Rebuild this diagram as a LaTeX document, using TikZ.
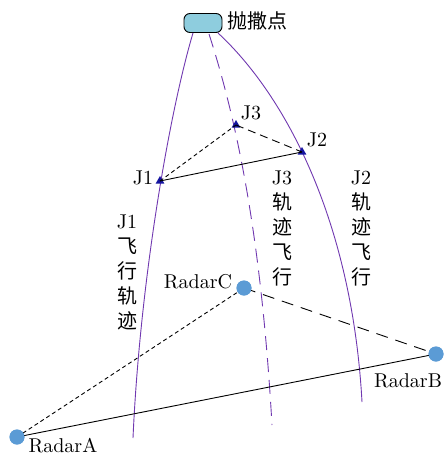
\documentclass[tikz,border=0pt]{standalone}
\usepackage{fontspec}
\setmainfont{lmroman10-regular}[Extension=.otf]
\newfontfamily\cjk{Noto Sans CJK SC}
\usetikzlibrary{shapes.geometric}
\definecolor{traj}{RGB}{112,56,176}
\definecolor{radarblue}{RGB}{91,155,213}
\definecolor{markblue}{RGB}{20,20,160}
\definecolor{boxfill}{RGB}{142,205,222}
\tikzset{
  lab/.style={font=\fontsize{20}{22}\selectfont, inner sep=0pt},
  cjklab/.style={font=\cjk\fontsize{20}{22}\selectfont, inner sep=0pt},
  vlab/.style={font=\fontsize{20}{25}\selectfont, align=center, inner sep=0pt},
  trajline/.style={draw=traj, line width=0.9pt},
  radar/.style={circle, fill=radarblue, minimum size=15pt, inner sep=0pt},
  jmark/.style={regular polygon, regular polygon sides=3, fill=markblue, minimum size=10pt, inner sep=0pt},
  conn/.style={line width=0.9pt},
}
\begin{document}
\begin{tikzpicture}[x=1pt,y=-1pt]
\useasboundingbox (0,0) rectangle (446,456);
% launch box
\node[draw=black, line width=0.9pt, fill=boxfill, rounded corners=6pt, minimum width=38pt, minimum height=19pt, inner sep=0pt] (launch) at (203,23) {};
\node[cjklab] (launchlab) at (257,21) {抛撒点};
% trajectories
\draw[trajline] (193,33) .. controls (170,110) and (140,280) .. (133,438);
\draw[trajline, dash pattern=on 14pt off 8pt] (209,34) .. controls (240,130) and (262,250) .. (272,425);
\draw[trajline] (218,33) .. controls (285,95) and (352,220) .. (362,402);
% J markers
\node[jmark] (J1) at (160,181) {};
\node[jmark] (J2) at (302,152) {};
\node[jmark] (J3) at (236,125) {};
\node[lab] (J1lab) at (143,178) {J1};
\node[lab] (J2lab) at (317,140) {J2};
\node[lab] (J3lab) at (251,113) {J3};
\draw[conn] (J1.center) -- (J2.center);
\draw[conn, dash pattern=on 4pt off 3pt] (J1.center) -- (J3.center);
\draw[conn, dash pattern=on 8pt off 5pt] (J3.center) -- (J2.center);
% radars
\node[radar] (RA) at (17,437) {};
\node[radar] (RB) at (436,354) {};
\node[radar] (RC) at (244,288) {};
\node[lab, anchor=base] (RAlab) at (63,452) {RadarA};
\node[lab] (RBlab) at (408,381) {RadarB};
\node[lab] (RClab) at (198,282) {RadarC};
\draw[conn] (RA.center) -- (RB.center);
\draw[conn, dash pattern=on 4pt off 3pt] (RA.center) -- (RC.center);
\draw[conn, dash pattern=on 12pt off 8pt] (RC.center) -- (RB.center);
\node[radar] at (RA) {};
\node[radar] at (RB) {};
\node[radar] at (RC) {};
% vertical labels
\node[vlab, anchor=north] (v1) at (127,215) {J1\\{\cjk 飞}\\{\cjk 行}\\{\cjk 轨}\\{\cjk 迹}};
\node[vlab, anchor=north] (v3) at (282,171) {J3\\{\cjk 轨}\\{\cjk 迹}\\{\cjk 飞}\\{\cjk 行}};
\node[vlab, anchor=north] (v2) at (361,171) {J2\\{\cjk 轨}\\{\cjk 迹}\\{\cjk 飞}\\{\cjk 行}};
\end{tikzpicture}
\end{document}
